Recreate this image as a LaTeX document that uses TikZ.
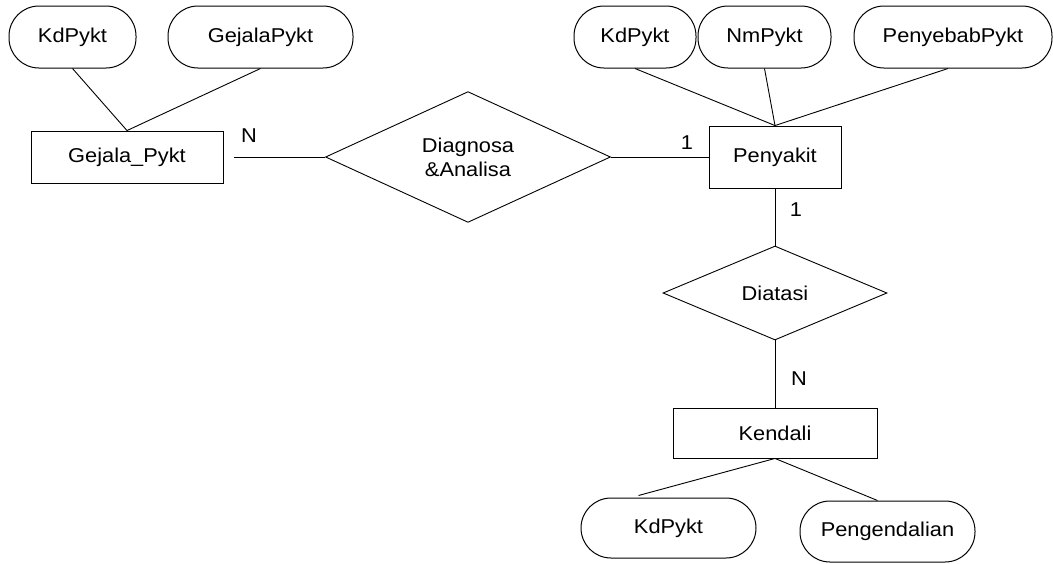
\documentclass[tikz,border=0pt]{standalone}
\usepackage{fontspec}
\setmainfont{Liberation Sans}[FakeStretch=1.09]
\usetikzlibrary{shapes.geometric}
\begin{document}
\begin{tikzpicture}[x=1pt,y=-1pt,
  every node/.style={font=\fontsize{20}{24}\selectfont, inner sep=0pt},
  attr/.style={draw, line width=1pt, rounded corners=30pt, minimum height=62pt},
  ent/.style={draw, line width=0.9pt, minimum height=52pt},
  rel/.style={draw, line width=0.9pt, shape=diamond, align=center},
  conn/.style={line width=0.9pt},
  card/.style={font=\fontsize{20}{22}\selectfont}]
\useasboundingbox (0,0) rectangle (1053,563);
% left entity
\node[attr, minimum width=127pt] (a1) at (72.5,37) {KdPykt};
\node[attr, minimum width=185pt] (a2) at (260.5,37) {GejalaPykt};
\node[ent, minimum width=192pt] (e1) at (127,157) {Gejala\_Pykt};
% relationship
\node[rel, minimum width=285pt, minimum height=124pt] (r1) at (468,157) {Diagnosa\\\&Analisa};
% Penyakit
\node[ent, minimum width=132pt, minimum height=62pt] (pen) at (775,157) {Penyakit};
\node[attr, minimum width=122pt] (b1) at (635,37) {KdPykt};
\node[attr, minimum width=133pt] (b2) at (764.5,37) {NmPykt};
\node[attr, minimum width=198pt] (b3) at (953,37) {PenyebabPykt};
% Diatasi
\node[rel, minimum width=224pt, minimum height=94pt] (r2) at (775,293) {Diatasi};
% Kendali
\node[ent, minimum width=204pt, minimum height=50pt] (ken) at (775,433) {Kendali};
\node[attr, minimum width=175pt, minimum height=60pt] (c1) at (668.5,528) {KdPykt};
\node[attr, minimum width=175pt, minimum height=61pt] (c2) at (887.5,531.5) {Pengendalian};
% connectors
\draw[conn] (a1.south) -- (e1.north);
\draw[conn] (a2.south) -- (e1.north);
\draw[conn] ([xshift=11pt]e1.east) -- (r1.west);
\draw[conn] (r1.east) -- (pen.west);
\draw[conn] (b1.south) -- (pen.north);
\draw[conn] (b2.south) -- (pen.north);
\draw[conn] ([xshift=-5pt]b3.south) -- (pen.north);
\draw[conn] (pen.south) -- (r2.north);
\draw[conn] (r2.south) -- (ken.north);
\draw[conn] (ken.south) -- ([xshift=-30pt,yshift=2pt]c1.north);
\draw[conn] (ken.south) -- ([xshift=-10pt]c2.north);
% cardinalities
\node[card] (n1) at (249,136) {N};
\node[card] (n2) at (687,143) {1};
\node[card] (n3) at (796,210) {1};
\node[card] (n4) at (799,379) {N};
\end{tikzpicture}
\end{document}
